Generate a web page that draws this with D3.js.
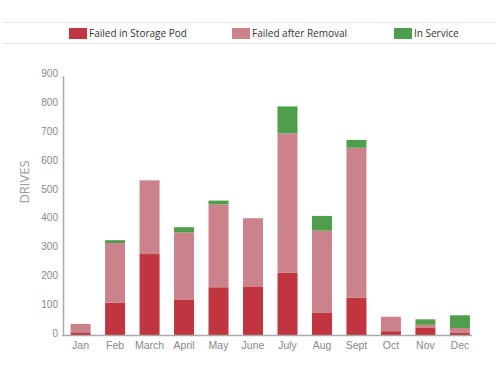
<!DOCTYPE html>
<html>
<head>
<meta charset="utf-8">
<script src="https://d3js.org/d3.v7.min.js"></script>
<style>
  body { margin: 0; background: #fff; }
  svg { display: block; font-family: "Open Sans", sans-serif; }
</style>
</head>
<body>
<svg></svg>
<script>
const months = ['Jan', 'Feb', 'March', 'April', 'May', 'June', 'July', 'Aug', 'Sept', 'Oct', 'Nov', 'Dec'];
const failedInPod = [11, 114, 282, 125, 167, 170, 217, 78, 131, 15, 28, 9];
const failedAfterRemoval = [29, 206, 255, 232, 287, 236, 483, 285, 519, 50, 9, 17];
const inService = [0, 10, 0, 18, 13, 0, 93, 51, 27, 0, 19, 44];
const yTicks = [0, 100, 200, 300, 400, 500, 600, 700, 800, 900];
const seriesNames = ['Failed in Storage Pod', 'Failed after Removal', 'In Service'];
const colors = ['#c0353f', '#cc828a', '#4f9e4c'];

const WIDTH = 500;
const HEIGHT = 375;

const svg = d3.select('svg')
    .attr('width', WIDTH)
    .attr('height', HEIGHT);

// stack the three series per month
const rows = months.map((m, i) => ({
  month: m,
  s0: failedInPod[i],
  s1: failedAfterRemoval[i],
  s2: inService[i],
}));
const stacked = d3.stack().keys(['s0', 's1', 's2'])(rows);

const x = d3.scaleBand()
    .domain(months)
    .range([63, 477.5])
    .paddingInner(0.42)
    .paddingOuter(0.22);

const y = d3.scaleLinear()
    .domain([0, 900])
    .range([335.5, 75.5]);

// legend rules
svg.append('line')
    .attr('x1', 4).attr('x2', 496)
    .attr('y1', 22.5).attr('y2', 22.5)
    .attr('stroke', '#e3e3e3');
svg.append('line')
    .attr('x1', 4).attr('x2', 496)
    .attr('y1', 43.5).attr('y2', 43.5)
    .attr('stroke', '#e3e3e3');

const legendX = [69, 232, 394];
const legend = svg.selectAll('g.legend')
    .data(seriesNames)
    .enter().append('g')
      .attr('class', 'legend')
      .attr('transform', (d, i) => `translate(${legendX[i]}, 28)`);
legend.append('rect')
    .attr('width', 18)
    .attr('height', 11)
    .attr('fill', (d, i) => colors[i]);
legend.append('text')
    .attr('x', 20)
    .attr('y', 5.5)
    .attr('dy', '.35em')
    .attr('font-size', 10)
    .attr('fill', '#333')
    .text((d) => d);

// bars
svg.append('g')
  .selectAll('g')
  .data(stacked)
  .enter().append('g')
    .attr('fill', (d, i) => colors[i])
  .selectAll('rect')
  .data((d) => d)
  .enter().append('rect')
    .attr('x', (d) => x(d.data.month))
    .attr('width', x.bandwidth())
    .attr('y', (d) => y(d[1]))
    .attr('height', (d) => y(d[0]) - y(d[1]));

// y axis
const yAxis = svg.append('g')
    .attr('transform', 'translate(63,0)')
    .call(d3.axisLeft(y).tickValues(yTicks).tickSize(0).tickPadding(5));
yAxis.select('.domain').attr('stroke', '#aaa').attr('stroke-width', 1.5);
yAxis.selectAll('text')
    .attr('font-size', 10)
    .attr('fill', '#888')
    .attr('dy', '0.1em');

// x axis
const xAxis = svg.append('g')
    .attr('transform', 'translate(0,335.5)')
    .call(d3.axisBottom(x).tickSize(0).tickPadding(6));
xAxis.select('.domain').remove();
xAxis.selectAll('text')
    .attr('font-size', 10.5)
    .attr('fill', '#888');
svg.append('line')
    .attr('x1', 62).attr('x2', 472)
    .attr('y1', 335.5).attr('y2', 335.5)
    .attr('stroke', '#aaa')
    .attr('stroke-width', 1.5);

// axis title
svg.append('text')
    .attr('transform', 'translate(24,182) rotate(-90)')
    .attr('text-anchor', 'middle')
    .attr('dy', '.35em')
    .attr('font-size', 13)
    .attr('fill', '#999')
    .text('DRIVES');
</script>
</body>
</html>
